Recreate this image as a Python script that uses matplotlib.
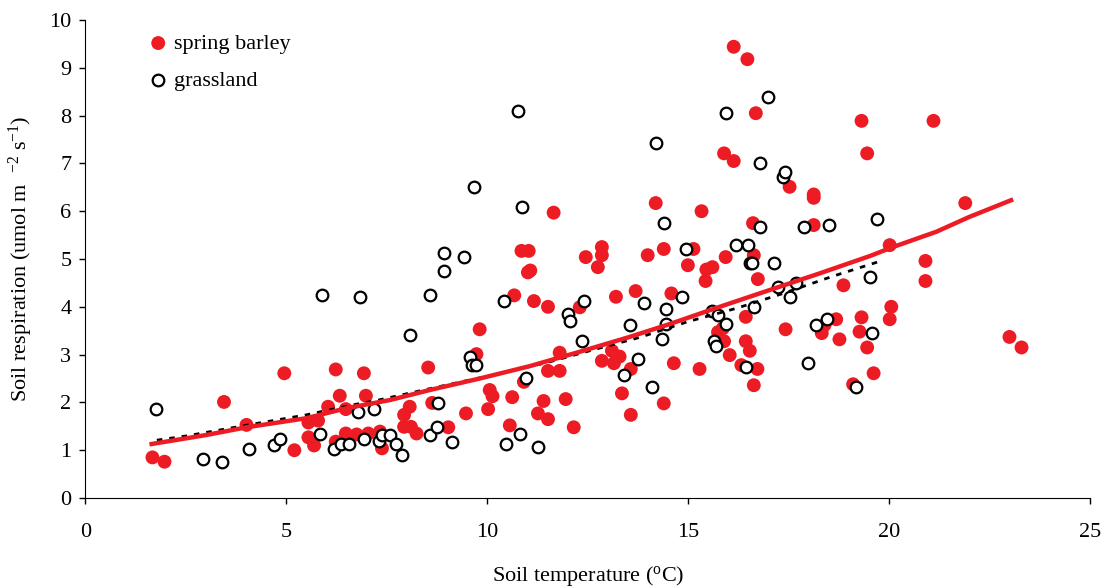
import numpy as np
import matplotlib
matplotlib.use("Agg")
import matplotlib.pyplot as plt

plt.rcParams['font.family'] = ['Liberation Serif', 'DejaVu Serif']
plt.rcParams['mathtext.fontset'] = 'custom'
plt.rcParams['mathtext.rm'] = 'Liberation Serif'
plt.rcParams['mathtext.it'] = 'Liberation Serif:italic'

# spring barley (red filled dots)
barley_t = [1.67, 1.97, 3.45, 4.01, 4.95, 5.20, 5.55, 5.79, 5.55, 5.69, 6.04, 6.23, 6.33, 6.48,
            6.23, 6.48, 6.75, 6.93, 6.98, 7.04, 7.33, 7.38, 7.93, 8.07, 7.93, 8.10, 8.24, 8.53,
            8.63, 9.03, 9.47, 9.81, 9.73, 10.02, 10.06, 10.13, 10.56, 10.62, 10.67, 10.91, 10.85,
            11.03, 11.01, 11.07, 11.16, 11.26, 11.40, 11.51, 11.51, 11.51, 11.65, 11.80, 11.80,
            11.95, 12.15, 12.30, 12.45, 12.75, 12.85, 12.85, 12.85, 13.10, 13.15, 13.29, 13.20,
            13.35, 13.57, 13.57, 13.69, 13.99, 14.19, 14.39, 14.39, 14.58, 14.64, 14.99, 15.13,
            15.28, 15.33, 15.43, 15.45, 15.60, 15.74, 15.86, 15.89, 15.93, 15.89, 16.03, 16.13,
            16.13, 16.32, 16.43, 16.43, 16.53, 16.47, 16.61, 16.63, 16.68, 16.73, 16.72, 16.63,
            17.42, 17.52, 18.12, 18.12, 18.12, 18.32, 18.39, 18.68, 18.76, 18.86, 19.10, 19.26,
            19.31, 19.31, 19.45, 19.45, 19.61, 20.01, 20.05, 20.01, 20.90, 20.90, 21.10, 21.89,
            22.99, 23.29]
barley_r = [0.85, 0.76, 2.01, 1.53, 2.61, 1.00, 1.58, 1.62, 1.27, 1.10, 1.91, 2.69, 2.14, 1.86,
            1.18, 1.35, 1.33, 2.61, 2.14, 1.35, 1.39, 1.04, 1.74, 1.91, 1.49, 1.49, 1.35, 2.73,
            1.99, 1.48, 1.77, 3.53, 3.01, 1.86, 2.26, 2.13, 1.52, 2.11, 4.24, 2.43, 5.17,
            5.17, 4.72, 4.76, 4.12, 1.77, 2.03, 1.65, 4.00, 2.66, 5.97, 2.66, 3.04,
            2.07, 1.48, 3.99, 5.04, 4.83, 5.25, 5.08, 2.87, 3.08, 2.82, 2.96, 4.21,
            2.19, 1.74, 2.70, 4.33, 5.08, 6.17, 5.21, 1.98, 4.28, 2.82, 4.87, 5.21,
            2.70, 6.00, 4.54, 4.78, 4.83, 3.47, 3.55, 7.21, 5.04, 3.28, 2.99, 9.44,
            7.05, 2.78, 3.28, 3.79, 3.08, 9.18, 5.75, 5.08, 8.05, 4.58, 2.70, 2.36,
            3.53, 6.51, 6.35, 6.28, 5.71, 3.45, 3.62, 3.74, 3.32, 4.45, 2.38, 3.48,
            3.78, 7.89, 7.21, 3.15, 2.61, 5.29, 4.00, 3.74, 4.96, 4.54, 7.89, 6.17,
            3.37, 3.15]

# grassland (open circles)
grass_t = [1.77, 2.92, 3.41, 4.06, 4.69, 4.84, 5.85, 5.89, 6.84, 6.18, 6.35, 6.55, 6.79, 6.93,
           7.18, 7.30, 7.39, 7.58, 7.74, 7.88, 8.07, 8.57, 8.57, 8.74, 8.78, 8.92, 8.92, 9.12,
           9.42, 9.56, 9.63, 9.73, 9.67, 10.41, 10.46, 10.77, 10.81, 10.86, 10.96, 11.26, 12.01,
           12.05, 12.41, 12.35, 13.39, 13.54, 13.75, 13.89, 14.09, 14.19, 14.34, 14.39, 14.45,
           14.45, 14.84, 14.95, 15.58, 15.64, 15.68, 15.74, 15.93, 15.93, 16.18, 16.43, 16.49,
           16.53, 16.58, 16.63, 16.78, 16.78, 16.98, 17.12, 17.23, 17.36, 17.41, 17.52, 17.69,
           17.87, 17.97, 18.17, 18.46, 18.51, 19.16, 19.51, 19.56, 19.70]
grass_r = [1.86, 0.81, 0.76, 1.02, 1.11, 1.23, 1.35, 4.24, 4.21, 1.02, 1.14, 1.14, 1.81, 1.23,
           1.86, 1.20, 1.32, 1.32, 1.14, 0.90, 3.41, 4.25, 1.32, 1.48, 1.98, 5.12, 4.75, 1.18,
           5.04, 2.96, 2.78, 2.78, 6.51, 4.12, 1.14, 8.10, 1.35, 6.09, 2.52, 1.06, 3.86,
           3.70, 4.12, 3.28, 2.57, 3.62, 2.90, 4.07, 2.32, 7.42, 3.32, 5.75, 3.95,
           3.65, 4.21, 5.20, 3.91, 3.28, 3.19, 3.83, 3.65, 8.05, 5.29, 2.74, 5.29,
           4.91, 4.91, 4.00, 7.00, 5.66, 8.38, 4.91, 4.41, 6.72, 6.83, 4.21, 4.49,
           5.66, 2.82, 3.62, 3.74, 5.71, 2.32, 4.62, 3.45, 5.84]

# fitted lines
barley_fit_t = [1.65, 3.02, 4.01, 5.50, 6.50, 7.58, 8.57, 9.81, 11.06, 12.30, 13.54, 14.54,
                15.78, 17.02, 18.27, 19.51, 20.09, 21.17, 21.99, 23.03]
barley_fit_r = [1.13, 1.32, 1.48, 1.67, 1.88, 2.05, 2.26, 2.50, 2.76, 3.06, 3.37, 3.64,
                4.00, 4.35, 4.70, 5.06, 5.25, 5.57, 5.88, 6.23]
grass_fit_t = [1.78, 2.52, 4.26, 5.50, 6.66, 7.24, 8.47, 10.23, 11.47, 12.63, 13.79, 14.99,
               16.20, 17.36, 18.56, 19.72]
grass_fit_r = [1.21, 1.30, 1.56, 1.74, 1.95, 2.04, 2.27, 2.59, 2.83, 3.10, 3.36, 3.69,
               3.97, 4.28, 4.63, 4.94]

red = '#ED1C24'

fig = plt.figure(figsize=(11.08, 5.88), dpi=100)
ax = fig.add_subplot(111)
fig.subplots_adjust(left=0.077, right=0.984, bottom=0.153, top=0.966)

ax.scatter(barley_t, barley_r, s=100, color=red, edgecolors='none', zorder=2, label='spring barley')
ax.scatter(grass_t, grass_r, s=70, facecolors='white', edgecolors='black', linewidths=1.6,
           zorder=3, label='grassland')

ax.plot(grass_fit_t, grass_fit_r, color='black', lw=2, ls=(0, (2, 2.5)), zorder=4)
ax.plot(barley_fit_t, barley_fit_r, color=red, lw=3.2, zorder=5)

ax.set_xlim(0, 25)
ax.set_ylim(0, 10)
ax.set_xticks(np.arange(0, 26, 5))
ax.set_yticks(np.arange(0, 11, 1))
ax.spines['top'].set_visible(False)
ax.spines['right'].set_visible(False)
ax.tick_params(direction='out', length=4, width=1, labelsize=16, pad=6)
ax.tick_params(axis='x', pad=14)

ax.set_xlabel(r'Soil temperature ($^{\mathrm{o}}$C)', fontsize=16, labelpad=16)
ax.set_ylabel(r'Soil respiration (umol m  $^{\mathrm{-2}}$ s$^{\mathrm{-1}}$)', fontsize=16, labelpad=10)

ax.legend(loc='upper left', bbox_to_anchor=(0.046, 1.0), frameon=False, fontsize=16,
          handletextpad=0.1, labelspacing=0.75, borderaxespad=0.2, handlelength=1.2)

fig.savefig('out.png', dpi=100)
